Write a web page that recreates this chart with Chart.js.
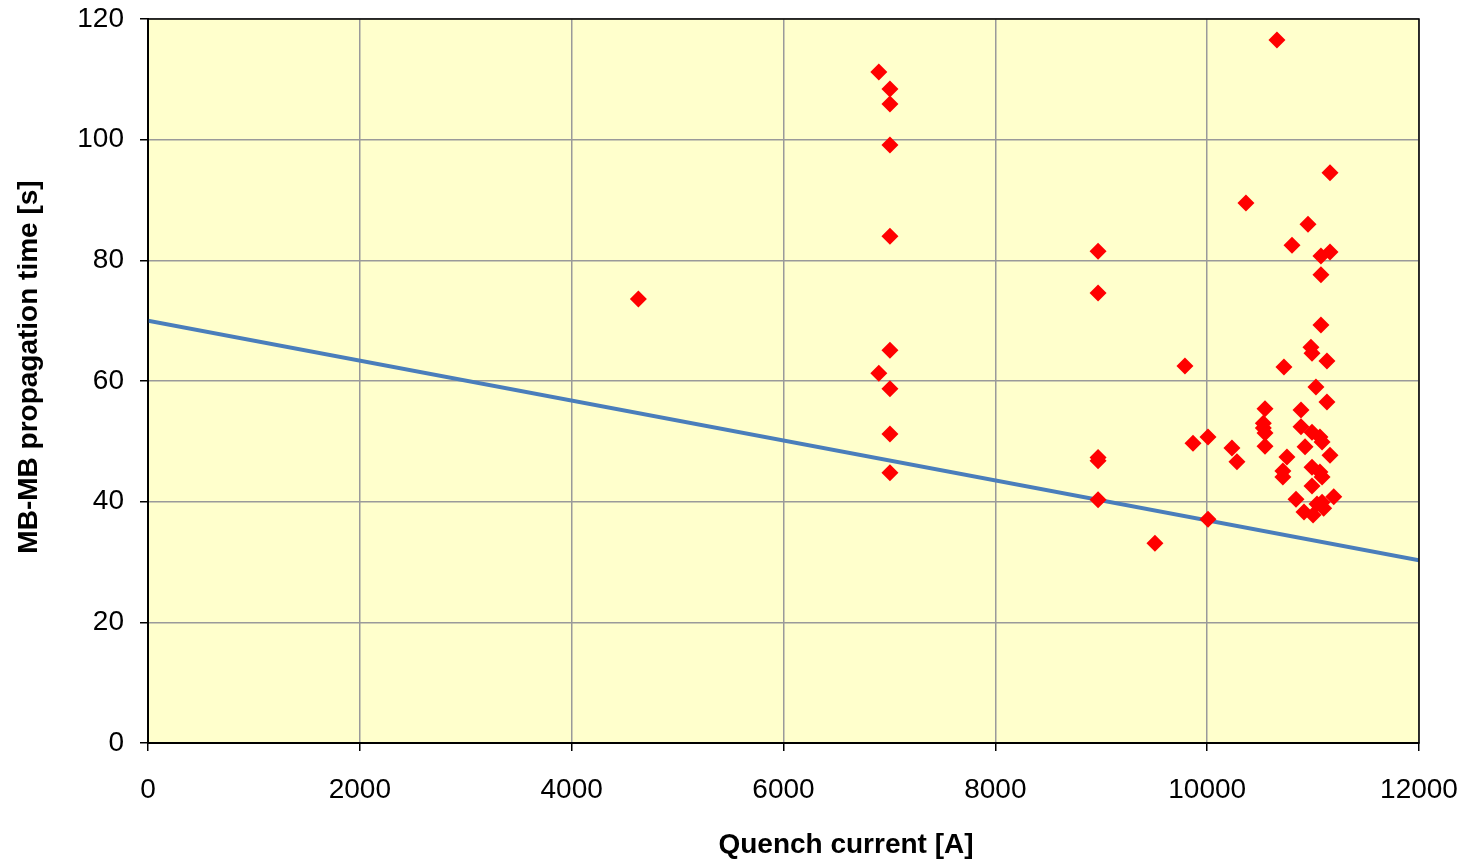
<!DOCTYPE html>
<html>
<head>
<meta charset="utf-8">
<script src="https://cdn.jsdelivr.net/npm/chart.js@4.4.1/dist/chart.umd.min.js"></script>
<style>
html,body{margin:0;padding:0;background:#fff;}
#wrap{width:1470px;height:859px;position:relative;}
</style>
</head>
<body>
<div id="wrap"><canvas id="c" width="1470" height="859"></canvas></div>
<script>
// Quench current [A]
const quenchCurrent = [
  4630,
  6900, 7005, 7005, 7005, 7005, 7005, 6900, 7005, 7005, 7005,
  8970, 8970, 8970, 8970, 8970,
  9507, 9790, 9866, 10008, 10008, 10234, 10281, 10366, 10659,
  11074, 10980, 10990, 11131, 10725, 11027, 11131, 10546, 10886,
  10530, 10530, 10546, 10546, 10886, 10990, 11065, 11085, 10924,
  11160, 10753, 10715, 10715, 10990, 11065, 11085, 10990, 10839,
  11195, 11037, 11085, 11100, 10914, 11000,
  11160, 10952, 10801, 11074, 11160, 11074
];
// MB-MB propagation time [s]
const propagationTime = [
  73.6,
  111.2, 108.4, 105.9, 99.1, 84.0, 65.1, 61.3, 58.7, 51.2, 44.8,
  81.5, 74.6, 47.3, 46.8, 40.3,
  33.1, 62.5, 49.7, 50.7, 37.1, 48.9, 46.6, 89.5, 116.5,
  69.3, 65.6, 64.6, 63.3, 62.3, 59.0, 56.5, 55.4, 55.2,
  53.0, 52.2, 51.4, 49.2, 52.4, 51.5, 50.7, 49.9, 49.1,
  47.7, 47.4, 45.1, 44.1, 45.7, 44.9, 44.1, 42.6, 40.4,
  40.8, 39.6, 39.9, 38.9, 38.3, 37.8,
  94.5, 86.0, 82.5, 80.7, 81.4, 77.6
];
// Trend line end points
const trendX = [0, 12000];
const trendY = [70.0, 30.3];

const xTicks = [0, 2000, 4000, 6000, 8000, 10000, 12000];
const yTicks = [0, 20, 40, 60, 80, 100, 120];

const xTitle = 'Quench current [A]';
const yTitle = 'MB-MB propagation time [s]';

const scatterData = quenchCurrent.map((x, i) => ({x: x, y: propagationTime[i]}));
const trendData = trendX.map((x, i) => ({x: x, y: trendY[i]}));

const bgPlugin = {
  id: 'bgPlugin',
  beforeDraw(chart) {
    const {ctx, chartArea: a} = chart;
    ctx.save();
    ctx.fillStyle = '#FFFFCC';
    ctx.fillRect(a.left, a.top, a.right - a.left, a.bottom - a.top);
    ctx.restore();
  },
  afterDatasetsDraw(chart) {
    const {ctx, chartArea: a} = chart;
    ctx.save();
    ctx.strokeStyle = '#000';
    ctx.lineWidth = 1.5;
    ctx.strokeRect(a.left, a.top, a.right - a.left, a.bottom - a.top);
    ctx.fillStyle = '#000';
    ctx.font = 'bold 28px "Liberation Sans Narrow", "Liberation Sans", Arial, sans-serif';
    ctx.textAlign = 'center';
    ctx.textBaseline = 'middle';
    // x-axis title
    ctx.fillText(xTitle, 846, 845);
    // y-axis title
    ctx.translate(29, 367);
    ctx.rotate(-Math.PI / 2);
    ctx.fillText(yTitle, 0, 0);
    ctx.restore();
  }
};

new Chart(document.getElementById('c'), {
  type: 'scatter',
  data: {
    datasets: [
      {
        type: 'line',
        data: trendData,
        borderColor: '#4A7EBB',
        borderWidth: 4,
        pointRadius: 0,
        fill: false,
        order: 2
      },
      {
        type: 'scatter',
        data: scatterData,
        pointStyle: 'rectRot',
        pointRadius: 8.5,
        pointBackgroundColor: '#FF0000',
        pointBorderColor: '#FF0000',
        pointBorderWidth: 0,
        order: 1
      }
    ]
  },
  options: {
    responsive: false,
    animation: false,
    layout: {padding: {top: 19, right: 51, left: 0, bottom: 0}},
    plugins: {legend: {display: false}, tooltip: {enabled: false}},
    scales: {
      x: {
        type: 'linear',
        min: 0, max: 12000,
        afterBuildTicks(scale) { scale.ticks = xTicks.map(v => ({value: v})); },
        afterFit(scale) { scale.height = 116; scale.paddingLeft = 0; scale.paddingRight = 0; },
        grid: {color: '#9A9A9A', lineWidth: 1.5, tickColor: '#000', tickLength: 8, drawTicks: true},
        border: {color: '#000', width: 2},
        ticks: {color: '#000', padding: 22, maxRotation: 0, callback: v => String(v),
          font: {family: '"Liberation Sans", Arial, sans-serif', size: 28}}
      },
      y: {
        type: 'linear',
        min: 0, max: 120,
        afterBuildTicks(scale) { scale.ticks = yTicks.map(v => ({value: v})); },
        afterFit(scale) { scale.width = 148; scale.paddingTop = 0; scale.paddingBottom = 0; },
        grid: {color: '#9A9A9A', lineWidth: 1.5, tickColor: '#000', tickLength: 8, drawTicks: true},
        border: {color: '#000', width: 2},
        ticks: {color: '#000', padding: 16, callback: v => String(v),
          font: {family: '"Liberation Sans", Arial, sans-serif', size: 28}}
      }
    }
  },
  plugins: [bgPlugin]
});
</script>
</body>
</html>
